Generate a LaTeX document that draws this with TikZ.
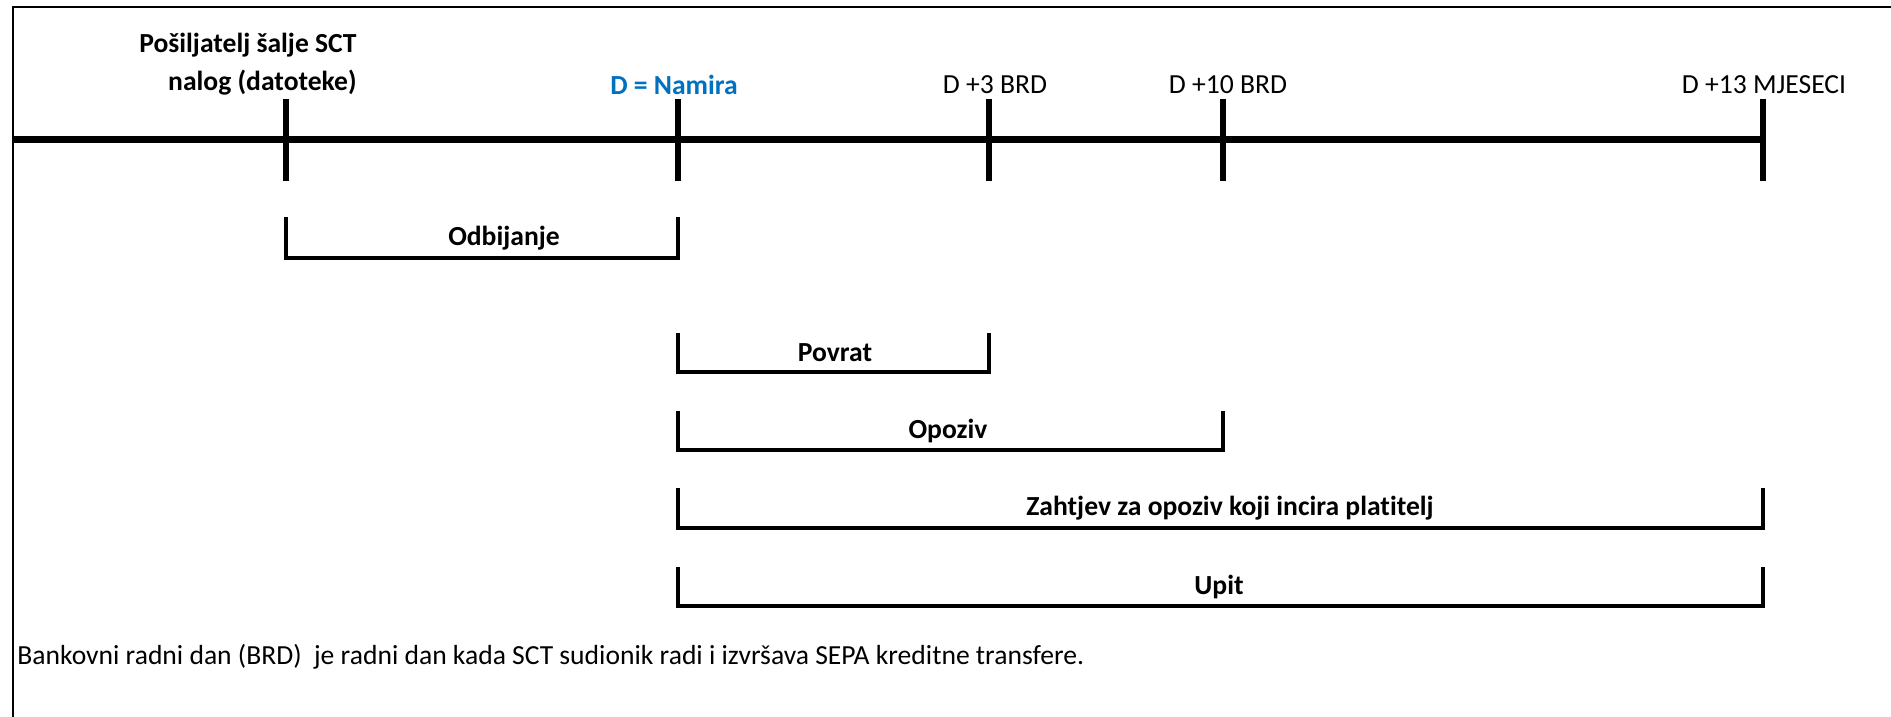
\documentclass[tikz,border=0pt]{standalone}
\usepackage{fontspec}
\setmainfont{Carlito}[Ligatures=NoCommon]
\usepackage{tikz}
\usetikzlibrary{positioning}
\definecolor{namirablue}{HTML}{0070C0}

\begin{document}
\begin{tikzpicture}[x=0.5pt, y=-0.5pt,
    lbl/.style={font=\fontsize{13.8}{19}\selectfont, inner sep=0pt},
    boldlbl/.style={inner sep=0pt, font=\fontsize{13.8}{19}\selectfont\bfseries},
    timeline/.style={line width=3.5pt},
    tickmark/.style={line width=2.8pt},
    spanbar/.style={line width=1.8pt, line join=miter},
    edgeline/.style={line width=1.1pt}
]
\useasboundingbox (0,0) rectangle (1891,717);

% frame
\draw[edgeline] (13,717) -- (13,7) -- (1891,7);

% time axis
\coordinate (start) at (12,140);
\coordinate (tS)  at (286,140);
\coordinate (tD)  at (678,140);
\coordinate (t3)  at (989,140);
\coordinate (t10) at (1223,140);
\coordinate (t13) at (1763,140);

\draw[timeline] (start) -- (t13);
\foreach \t in {tS,tD,t3,t10,t13}
    \draw[tickmark] ([yshift=20.5pt]\t) -- ([yshift=-20.5pt]\t);

\node[boldlbl, align=right, anchor=east] (lS) at (357,64) {Pošiljatelj šalje SCT\\nalog (datoteke)};
\node[boldlbl, text=namirablue] (lD) at (674,85) {D = Namira};
\node[lbl] (l3)  at (995,85)  {D +3 BRD};
\node[lbl] (l10) at (1228,85) {D +10 BRD};
\node[lbl] (l13) at (1764,85) {D +13 MJESECI};

% periods
\draw[spanbar] (286,217) -- (286,258) -- (678,258) -- (678,217);
\node[boldlbl] (odb) at (504,238) {Odbijanje};

\draw[spanbar] (678,333) -- (678,372) -- (989,372) -- (989,333);
\node[boldlbl] (pov) at (835,353) {Povrat};

\draw[spanbar] (678,411) -- (678,450) -- (1223,450) -- (1223,411);
\node[boldlbl] (opo) at (948,431) {Opoziv};

\draw[spanbar] (678,488) -- (678,528) -- (1763,528) -- (1763,488);
\node[boldlbl] (zah) at (1230,508) {Zahtjev za opoziv koji incira platitelj};

\draw[spanbar] (678,567) -- (678,606) -- (1763,606) -- (1763,567);
\node[boldlbl] (upi) at (1219,587) {Upit};

\node[lbl, anchor=west] (note) at (17,657) {Bankovni radni dan (BRD)\ \ je radni dan kada SCT sudionik radi i izvršava SEPA kreditne transfere.};

\end{tikzpicture}
\end{document}
